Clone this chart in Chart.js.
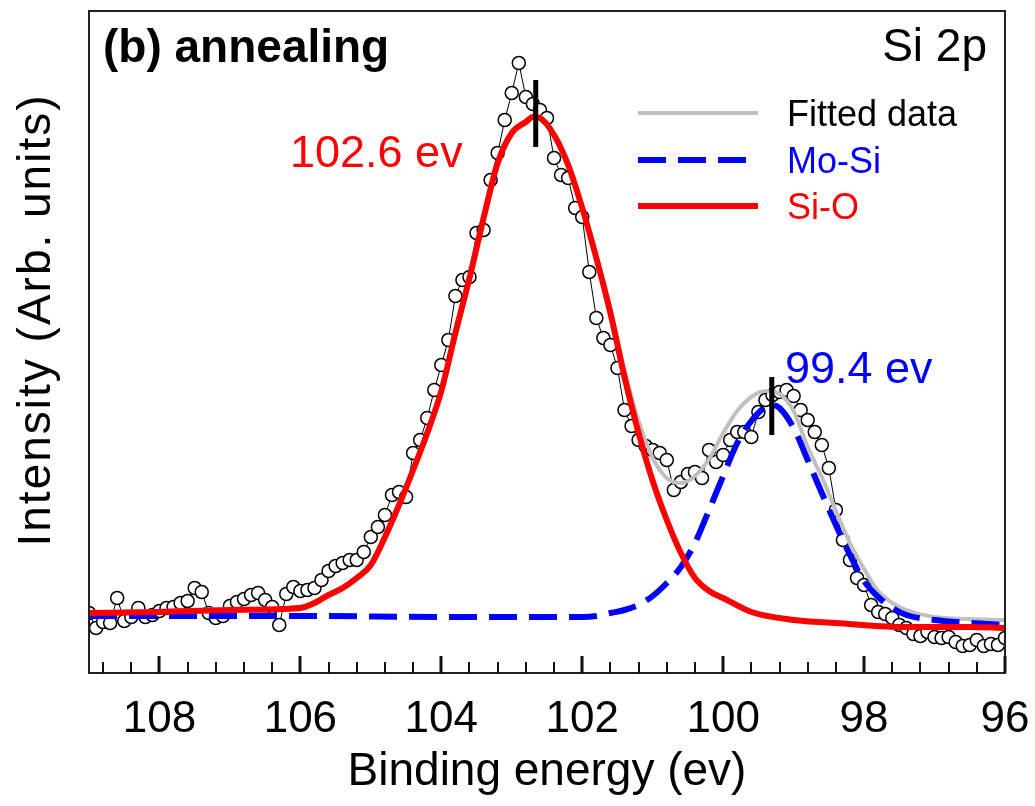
<!DOCTYPE html>
<html>
<head>
<meta charset="utf-8">
<script src="https://cdn.jsdelivr.net/npm/chart.js@4.4.0/dist/chart.umd.min.js"></script>
<style>
  html, body { margin: 0; padding: 0; background: #fff; }
</style>
</head>
<body>
<canvas id="myChart" width="1035" height="806"></canvas>
<script>
// measured Si 2p spectrum (open circles)
const measuredEnergy = [
  109.0, 108.9, 108.8, 108.7, 108.6, 108.5, 108.4, 108.3, 108.2, 108.1,
  108.0, 107.9, 107.8, 107.7, 107.6, 107.5, 107.4, 107.3, 107.2, 107.1,
  107.0, 106.9, 106.8, 106.7, 106.6, 106.5, 106.4, 106.3, 106.2, 106.1,
  106.0, 105.9, 105.8, 105.7, 105.6, 105.5, 105.4, 105.3, 105.2, 105.1,
  105.0, 104.9, 104.8, 104.7, 104.6, 104.5, 104.4, 104.3, 104.2, 104.1,
  104.0, 103.9, 103.8, 103.7, 103.6, 103.5, 103.4, 103.3, 103.2, 103.1,
  103.0, 102.9, 102.8, 102.7, 102.6, 102.5, 102.4, 102.3, 102.2, 102.1,
  102.0, 101.9, 101.8, 101.7, 101.6, 101.5, 101.4, 101.3, 101.2, 101.1,
  101.0, 100.9, 100.8, 100.7, 100.6, 100.5, 100.4, 100.3, 100.2, 100.1,
  100.0, 99.9, 99.8, 99.7, 99.6, 99.5, 99.4, 99.3, 99.2, 99.1,
  99.0, 98.9, 98.8, 98.7, 98.6, 98.5, 98.4, 98.3, 98.2, 98.1,
  98.0, 97.9, 97.8, 97.7, 97.6, 97.5, 97.4, 97.3, 97.2, 97.1,
  97.0, 96.9, 96.8, 96.7, 96.6, 96.5, 96.4, 96.3, 96.2, 96.1,
  96.0
];
const measuredCounts = [
  60, 45, 51, 50, 75, 52, 56, 65, 56, 58,
  62, 65, 66, 70, 72, 85, 81, 60, 55, 57,
  67, 71, 74, 78, 80, 73, 66, 48, 79, 86,
  82, 83, 85, 93, 102, 107, 110, 113, 113, 121,
  136, 146, 158, 178, 181, 176, 220, 233, 255, 283,
  308, 333, 377, 393, 396, 440, 443, 493, 520, 553,
  580, 610, 576, 569, 563, 555, 515, 498, 495, 465,
  456, 401, 355, 335, 328, 305, 263, 247, 233, 227,
  223, 220, 213, 183, 191, 199, 201, 195, 223, 211,
  218, 233, 241, 241, 236, 261, 273, 278, 281, 283,
  277, 263, 253, 241, 228, 205, 163, 133, 113, 95,
  88, 68, 61, 59, 55, 48, 45, 39, 37, 41,
  36, 35, 36, 31, 27, 28, 33, 27, 29, 28,
  35
];

// Si-O component
const siOEnergy = [109.0, 108.0, 107.0, 106.0, 105.8, 105.6, 105.4, 105.2, 105.0, 104.8,
  104.6, 104.4, 104.2, 104.0, 103.8, 103.6, 103.4, 103.2, 103.0, 102.8,
  102.7, 102.6, 102.4, 102.2, 102.0, 101.8, 101.6, 101.4, 101.2, 101.0,
  100.8, 100.6, 100.4, 100.2, 100.0, 99.6, 99.0, 98.4, 97.5, 96.5, 96.0];
const siOCounts = [60, 61, 63, 65, 70, 78, 85, 95, 108, 136,
  168, 203, 240, 282, 340, 395, 455, 510, 540, 551,
  556, 555, 538, 508, 465, 415, 360, 296, 240, 192,
  153, 120, 95, 82, 75, 61, 53, 50, 46, 46, 45];

// Mo-Si component
const moSiEnergy = [109.0, 106.0, 104.0, 102.0, 101.8, 101.6, 101.4, 101.2, 101.0, 100.8,
  100.6, 100.4, 100.2, 100.0, 99.8, 99.6, 99.4, 99.3, 99.2, 99.0,
  98.8, 98.6, 98.4, 98.2, 98.0, 97.8, 97.6, 97.4, 97.0, 96.5, 96.0];
const moSiCounts = [57, 57, 56, 56, 57, 60, 63, 68, 77, 90,
  106, 130, 163, 197, 230, 252, 266, 268, 265, 245,
  213, 180, 148, 118, 92, 76, 65, 58, 53, 50, 48];

// sum fit
const fitEnergy = [109.0, 108.0, 107.0, 106.0, 105.8, 105.6, 105.4, 105.2, 105.0, 104.8,
  104.6, 104.4, 104.2, 104.0, 103.8, 103.6, 103.4, 103.2, 103.0, 102.8,
  102.7, 102.6, 102.4, 102.2, 102.0, 101.8, 101.6, 101.4, 101.2, 101.0,
  100.8, 100.6, 100.4, 100.2, 100.0, 99.8, 99.6, 99.4, 99.2, 99.0,
  98.8, 98.6, 98.4, 98.2, 98.0, 97.8, 97.6, 97.4, 97.0, 96.5, 96.0];
const fitCounts = [61, 62, 64, 66, 71, 79, 86, 96, 109, 137,
  169, 204, 241, 283, 341, 396, 456, 511, 541, 552,
  557, 556, 539, 509, 466, 417, 363, 303, 252, 215,
  195, 190, 197, 214, 240, 262, 276, 282, 279, 262,
  226, 196, 162, 130, 104, 82, 70, 63, 56, 54, 53];

const xTicks = [108, 106, 104, 102, 100, 98, 96];
const peakEnergy = [102.66, 99.31];
const peakMarkLow = [526, 238];
const peakMarkHigh = [593, 296];
const peakLabels = ["102.6 ev", "99.4 ev"];

const FONT = '"Liberation Sans", Arial, sans-serif';
const pts = (xs, ys) => xs.map((x, i) => ({ x: x, y: ys[i] }));

const decor = {
  id: "decor",
  afterDatasetsDraw(chart) {
    const c = chart.ctx;
    const xs = chart.scales.x, ys = chart.scales.y;
    c.save();
    c.strokeStyle = "#000";
    c.lineWidth = 5;
    peakEnergy.forEach((e, i) => {
      const px = xs.getPixelForValue(e);
      c.beginPath();
      c.moveTo(px, ys.getPixelForValue(peakMarkLow[i]));
      c.lineTo(px, ys.getPixelForValue(peakMarkHigh[i]));
      c.stroke();
    });
    c.restore();
  },
  afterDraw(chart) {
    const c = chart.ctx;
    const a = chart.chartArea;
    const xs = chart.scales.x;
    c.save();
    // frame
    c.strokeStyle = "#222";
    c.lineWidth = 2;
    c.strokeRect(a.left, a.top, a.right - a.left, a.bottom - a.top);
    // inward ticks
    c.strokeStyle = "#111";
    for (let k = 0; k <= 32; k++) {
      const v = 108.8 - 0.4 * k;
      const major = Math.abs(v - Math.round(v)) < 0.01 && Math.round(v) % 2 === 0;
      const px = Math.round(xs.getPixelForValue(v));
      c.lineWidth = major ? 3 : 2;
      c.beginPath();
      c.moveTo(px, a.bottom);
      c.lineTo(px, a.bottom - (major ? 17 : 11));
      c.stroke();
    }
    // texts
    c.fillStyle = "#000";
    c.font = "bold 46px " + FONT;
    c.textAlign = "left";
    c.textBaseline = "alphabetic";
    c.fillText("(b) annealing", 103, 62);
    c.font = "46px " + FONT;
    c.textAlign = "right";
    c.fillText("Si 2p", 987, 61);
    c.textAlign = "left";
    c.font = "45px " + FONT;
    c.fillStyle = "#ff0000";
    c.fillText(peakLabels[0], 290, 167);
    c.fillStyle = "#0000ff";
    c.fillText(peakLabels[1], 785, 383);
    // legend
    const ds = chart.data.datasets;
    const leg = [
      { d: ds[2], y: 113 },
      { d: ds[1], y: 160 },
      { d: ds[0], y: 206 }
    ];
    c.font = "36px " + FONT;
    leg.forEach(l => {
      c.strokeStyle = l.d.borderColor;
      c.lineWidth = l.d.borderWidth;
      c.setLineDash(l.d.borderDash || []);
      c.beginPath();
      c.moveTo(638, l.y);
      c.lineTo(758, l.y);
      c.stroke();
      c.setLineDash([]);
      c.fillStyle = l.d.label === "Fitted data" ? "#000" : l.d.borderColor;
      c.fillText(l.d.label, 787, l.y + 13);
    });
    // y title
    c.translate(50, 320);
    c.rotate(-Math.PI / 2);
    c.fillStyle = "#000";
    c.font = "46px " + FONT;
    c.letterSpacing = "2px";
    c.textAlign = "center";
    c.fillText("Intensity (Arb. units)", 0, 0);
    c.restore();
  }
};

const ctx = document.getElementById("myChart");
new Chart(ctx, {
  type: "line",
  data: {
    datasets: [
      {
        label: "Si-O",
        data: pts(siOEnergy, siOCounts),
        borderColor: "#ff0000",
        borderWidth: 6,
        pointRadius: 0,
        cubicInterpolationMode: "monotone",
        order: 0,
      },
      {
        label: "Mo-Si",
        data: pts(moSiEnergy, moSiCounts),
        borderColor: "#0000ff",
        borderWidth: 6,
        borderDash: [28, 12],
        pointRadius: 0,
        cubicInterpolationMode: "monotone",
        order: 1,
      },
      {
        label: "Fitted data",
        data: pts(fitEnergy, fitCounts),
        borderColor: "#c0c0c0",
        borderWidth: 4,
        pointRadius: 0,
        cubicInterpolationMode: "monotone",
        order: 2,
      },
      {
        label: "Measured",
        data: pts(measuredEnergy, measuredCounts),
        borderColor: "#000",
        borderWidth: 1,
        pointRadius: 6.5,
        pointBorderWidth: 1.5,
        pointBorderColor: "#000",
        pointBackgroundColor: "#fff",
        tension: 0,
        order: 3,
      },
    ],
  },
  options: {
    responsive: false,
    animation: false,
    devicePixelRatio: 1,
    layout: { padding: { top: 11, right: 30, left: 0, bottom: 0 } },
    plugins: { legend: { display: false }, tooltip: { enabled: false } },
    scales: {
      x: {
        type: "linear",
        min: 96,
        max: 109,
        reverse: true,
        grid: { display: false, drawTicks: false },
        border: { display: false },
        afterBuildTicks: (s) => { s.ticks = xTicks.map(v => ({ value: v })); },
        afterFit: (s) => { s.height = 133; s.paddingLeft = 0; s.paddingRight = 0; },
        ticks: {
          color: "#000",
          padding: 20,
          font: { family: FONT, size: 44 },
        },
        title: {
          display: true,
          text: "Binding energy (ev)",
          color: "#000",
          font: { family: FONT, size: 46 },
          padding: { top: 0, bottom: 6 },
        },
      },
      y: {
        min: 0,
        max: 662,
        grid: { display: false, drawTicks: false },
        border: { display: false },
        ticks: { display: false },
        afterFit: (s) => { s.width = 89; s.paddingTop = 0; s.paddingBottom = 0; },
      },
    },
  },
  plugins: [decor],
});
</script>
</body>
</html>
